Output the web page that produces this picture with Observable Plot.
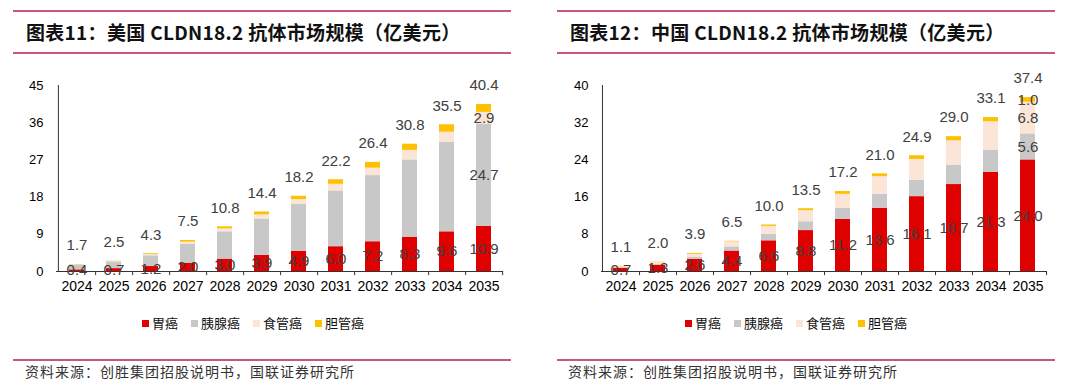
<!DOCTYPE html>
<html><head><meta charset="utf-8">
<script src="https://cdn.jsdelivr.net/npm/d3@7"></script>
<script src="https://cdn.jsdelivr.net/npm/@observablehq/plot@0.6"></script>
<style>
html,body{margin:0;padding:0;background:#fff;}
body{width:1080px;height:389px;position:relative;overflow:hidden;font-family:"Noto Sans CJK SC",sans-serif;}
.rule{position:absolute;height:2px;background:#C9577D;}
.title{position:absolute;font-size:19px;font-weight:bold;white-space:nowrap;color:#111;line-height:20px;letter-spacing:0.3px;}
.caption{position:absolute;font-size:14px;letter-spacing:1px;white-space:nowrap;color:#333;line-height:16px;}
.legend{position:absolute;display:flex;align-items:center;font-size:13px;color:#111;white-space:nowrap;line-height:16px;}
.legend .item{display:flex;align-items:center;margin-right:13px;}
.legend .sw{width:7px;height:7px;margin-right:3px;}
.chart{position:absolute;}
</style>
</head><body>
<div class="rule" style="left:13px;width:498px;top:10px"></div>
<div class="rule" style="left:13px;width:498px;top:52px"></div>
<div class="rule" style="left:557px;width:498px;top:10px"></div>
<div class="rule" style="left:557px;width:498px;top:52px"></div>
<div class="title" style="left:26px;top:22px">图表11：美国 CLDN18.2 抗体市场规模（亿美元）</div>
<div class="title" style="left:570px;top:22px">图表12：中国 CLDN18.2 抗体市场规模（亿美元）</div>
<div id="c1" class="chart" style="left:0;top:60px"></div>
<div id="c2" class="chart" style="left:540px;top:60px"></div>
<div id="l1" class="legend" style="left:142px;top:315px"></div>
<div id="l2" class="legend" style="left:685px;top:315px"></div>
<div class="rule" style="left:13px;width:498px;top:359px"></div>
<div class="rule" style="left:557px;width:498px;top:359px"></div>
<div class="caption" style="left:25px;top:363px">资料来源：创胜集团招股说明书，国联证券研究所</div>
<div class="caption" style="left:568px;top:363px">资料来源：创胜集团招股说明书，国联证券研究所</div>
<script>
const years = ["2024","2025","2026","2027","2028","2029","2030","2031","2032","2033","2034","2035"];
const seriesNames = ["胃癌","胰腺癌","食管癌","胆管癌"];
const seriesColors = ["#DF0000","#C8C8C8","#FBE5D6","#FFC000"];

// 美国
const usGastric    = [0.4,0.7,1.2,2.0,3.0,3.9,4.9,6.0,7.2,8.3,9.6,10.9];
const usPancreatic = [1.1,1.6,2.6,4.6,6.6,8.8,11.3,13.5,16.0,18.7,21.6,24.7];
const usEsophageal = [0.1,0.1,0.3,0.5,0.7,1.0,1.2,1.6,1.8,2.3,2.5,2.9];
const usBiliary    = [0.1,0.1,0.2,0.4,0.5,0.7,0.8,1.1,1.4,1.5,1.8,1.9];
const usTotal      = [1.7,2.5,4.3,7.5,10.8,14.4,18.2,22.2,26.4,30.8,35.5,40.4];
const usTicks      = [0,9,18,27,36,45];

// 中国
const cnGastric    = [0.7,1.3,2.6,4.4,6.6,8.8,11.2,13.6,16.1,18.7,21.3,24.0];
const cnPancreatic = [0.1,0.2,0.5,0.9,1.4,1.9,2.4,3.0,3.5,4.1,4.8,5.6];
const cnEsophageal = [0.2,0.4,0.6,1.1,1.7,2.4,3.0,3.8,4.5,5.3,6.1,6.8];
const cnBiliary    = [0.1,0.1,0.2,0.1,0.3,0.4,0.6,0.6,0.8,0.9,0.9,1.0];
const cnTotal      = [1.1,2.0,3.9,6.5,10.0,13.5,17.2,21.0,24.9,29.0,33.1,37.4];
const cnTicks      = [0,8,16,24,32,40];

// which segments carry a value label (gastric every year; others only in 2035)
const usLabeled = [years.map(()=>true), years.map(y=>y==="2035"), years.map(y=>y==="2035"), years.map(()=>false)];
const cnLabeled = [years.map(()=>true), years.map(y=>y==="2035"), years.map(y=>y==="2035"), years.map(y=>y==="2035")];

function longTable(seriesValues, labeled) {
  const rows = [];
  years.forEach((yr, i) => {
    seriesValues.forEach((vals, s) => {
      rows.push({year: yr, series: seriesNames[s], value: vals[i], show: labeled[s][i]});
    });
  });
  return rows;
}

function makeChart(seriesValues, totals, ticks, labeled, ml, mr) {
  const width = 540, height = 240, mt = 25, mb = 29;
  const step = (width - ml - mr) / years.length;
  const ymax = ticks[ticks.length - 1];
  const data = longTable(seriesValues, labeled);
  const totalRows = years.map((yr, i) => ({year: yr, total: totals[i]}));
  const tickLen = ymax / 45; // about 4px below the axis
  return Plot.plot({
    width, height,
    marginLeft: ml, marginRight: mr, marginTop: mt, marginBottom: mb,
    style: {fontFamily: "'Liberation Sans', Arial, sans-serif", background: "transparent", overflow: "visible"},
    x: {type: "band", domain: years, paddingInner: 0.6, paddingOuter: 0.3, label: null},
    y: {domain: [0, ymax], label: null},
    color: {domain: seriesNames, range: seriesColors},
    marks: [
      Plot.barY(data, Plot.stackY({x: "year", y: "value", fill: "series", order: null})),
      Plot.ruleY([0], {stroke: "#333", strokeWidth: 1}),
      Plot.ruleX([years[0]], {x: d => d, dx: -step / 2, y1: 0, y2: ymax, stroke: "#333", strokeWidth: 1}),
      Plot.ruleX(years, {x: d => d, dx: step / 2, y1: 0, y2: -tickLen, stroke: "#333", strokeWidth: 1}),
      Plot.text(data, Plot.stackY({x: "year", y: "value", z: "series", order: null,
        text: d => d.show ? d.value.toFixed(1) : "", fontSize: 15, fill: "#404040"})),
      Plot.text(totalRows, {x: "year", y: "total", text: d => d.total.toFixed(1), dy: -19, fontSize: 15, fill: "#404040"}),
      Plot.axisY({ticks, tickSize: 0, tickPadding: 13, fontSize: 13, fill: "#000", label: null}),
      Plot.axisX({tickSize: 0, tickPadding: 10, fontSize: 14, fill: "#000", label: null})
    ]
  });
}

document.getElementById("c1").appendChild(
  makeChart([usGastric, usPancreatic, usEsophageal, usBiliary], usTotal, usTicks, usLabeled, 56, 37));
document.getElementById("c2").appendChild(
  makeChart([cnGastric, cnPancreatic, cnEsophageal, cnBiliary], cnTotal, cnTicks, cnLabeled, 61, 34));

function legend(id) {
  const el = document.getElementById(id);
  seriesNames.forEach((n, i) => {
    const it = document.createElement("div");
    it.className = "item";
    const sw = document.createElement("div");
    sw.className = "sw";
    sw.style.background = seriesColors[i];
    const tx = document.createElement("span");
    tx.textContent = n;
    it.appendChild(sw); it.appendChild(tx);
    el.appendChild(it);
  });
}
legend("l1"); legend("l2");
</script>
</body></html>
